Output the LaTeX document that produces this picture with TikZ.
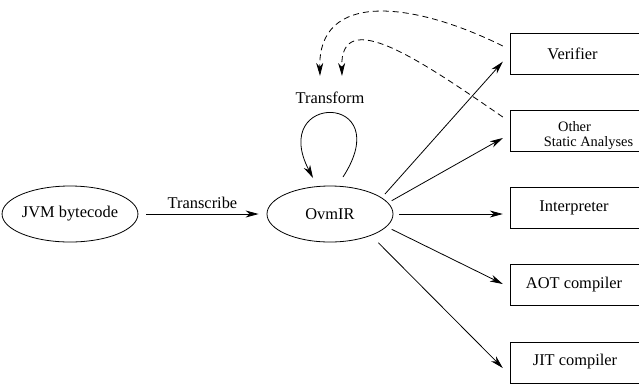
\documentclass[tikz,border=0pt]{standalone}
\usepackage{fontspec}
\setmainfont{Liberation Serif}
\usetikzlibrary{shapes.geometric,arrows.meta}
\begin{document}
\begin{tikzpicture}[x=1pt,y=-1pt,
  every node/.style={font=\rmfamily\fontsize{16.4}{15}\selectfont, inner sep=0pt},
  small/.style={font=\rmfamily\fontsize{14.4}{15}\selectfont, anchor=base},
  ell/.style={draw, ellipse, line width=0.8pt, minimum width=126pt, minimum height=56pt},
  outbox/.style={draw, rectangle, line width=0.8pt, minimum width=135pt, minimum height=41pt},
  arr/.style={line width=0.8pt, -{Stealth[length=13pt,width=7pt,inset=4pt]}},
  dsh/.style={arr, dash pattern=on 6pt off 4pt}]
\useasboundingbox (0,0) rectangle (639,384);
\clip (0,0) rectangle (639,384);

\node[ell] (jvm) at (70,214) {JVM bytecode};
\node[ell] (ovm) at (330,214) {OvmIR};

\node[outbox] (ver) at (578,53.5) {};
\node (vertxt) at (572.5,54) {Verifier};
\node[outbox, minimum height=41pt] (oth) at (578,130.5) {};
\node[small] (othtxt) at (574.5,131.7) {Other};
\node[small] (statxt) at (588.5,146.7) {Static Analyses};
\node[outbox] (int) at (578,207.5) {};
\node (inttxt) at (574,208) {Interpreter};
\node[outbox] (aot) at (578,284.5) {};
\node (aottxt) at (574,285) {AOT compiler};
\node[outbox] (jit) at (578,362.5) {};
\node (jittxt) at (575,362) {JIT compiler};

\draw[arr] ([xshift=8pt]jvm.east) -- node[above=5pt] (lbltr) {Transcribe} ([xshift=-8pt]ovm.west);

\node (lbltf) at (330,98) {Transform};
\draw[arr] ([xshift=13pt,yshift=37pt]ovm.center) .. controls (398,92) and (268,92) .. ([xshift=-17pt,yshift=36pt]ovm.center);

\draw[arr] ([xshift=55pt,yshift=20pt]ovm.center) -- ([xshift=-7.3pt,yshift=-8.2pt]ver.west);
\draw[arr] ([xshift=61.7pt,yshift=13.3pt]ovm.center) -- ([xshift=-7.3pt,yshift=-7.5pt]oth.west);
\draw[arr] ([xshift=69.3pt]ovm.center) -- ([xshift=-7.3pt,yshift=-6.5pt]int.west);
\draw[arr] ([xshift=61.7pt,yshift=-15.3pt]ovm.center) -- ([xshift=-7.3pt,yshift=0.5pt]aot.west);
\draw[arr] ([xshift=48.3pt,yshift=-28.7pt]ovm.center) -- ([xshift=-7.3pt,yshift=-5.5pt]jit.west);

\draw[dsh] ([xshift=-7.3pt,yshift=7.5pt]ver.west) .. controls (410,0) and (318,-8) .. ([xshift=-10pt,yshift=16pt]lbltf.north);
\draw[dsh] ([xshift=-7.3pt,yshift=13.5pt]oth.west) .. controls (420,60) and (340,5) .. ([xshift=12pt,yshift=16pt]lbltf.north);
\end{tikzpicture}
\end{document}
